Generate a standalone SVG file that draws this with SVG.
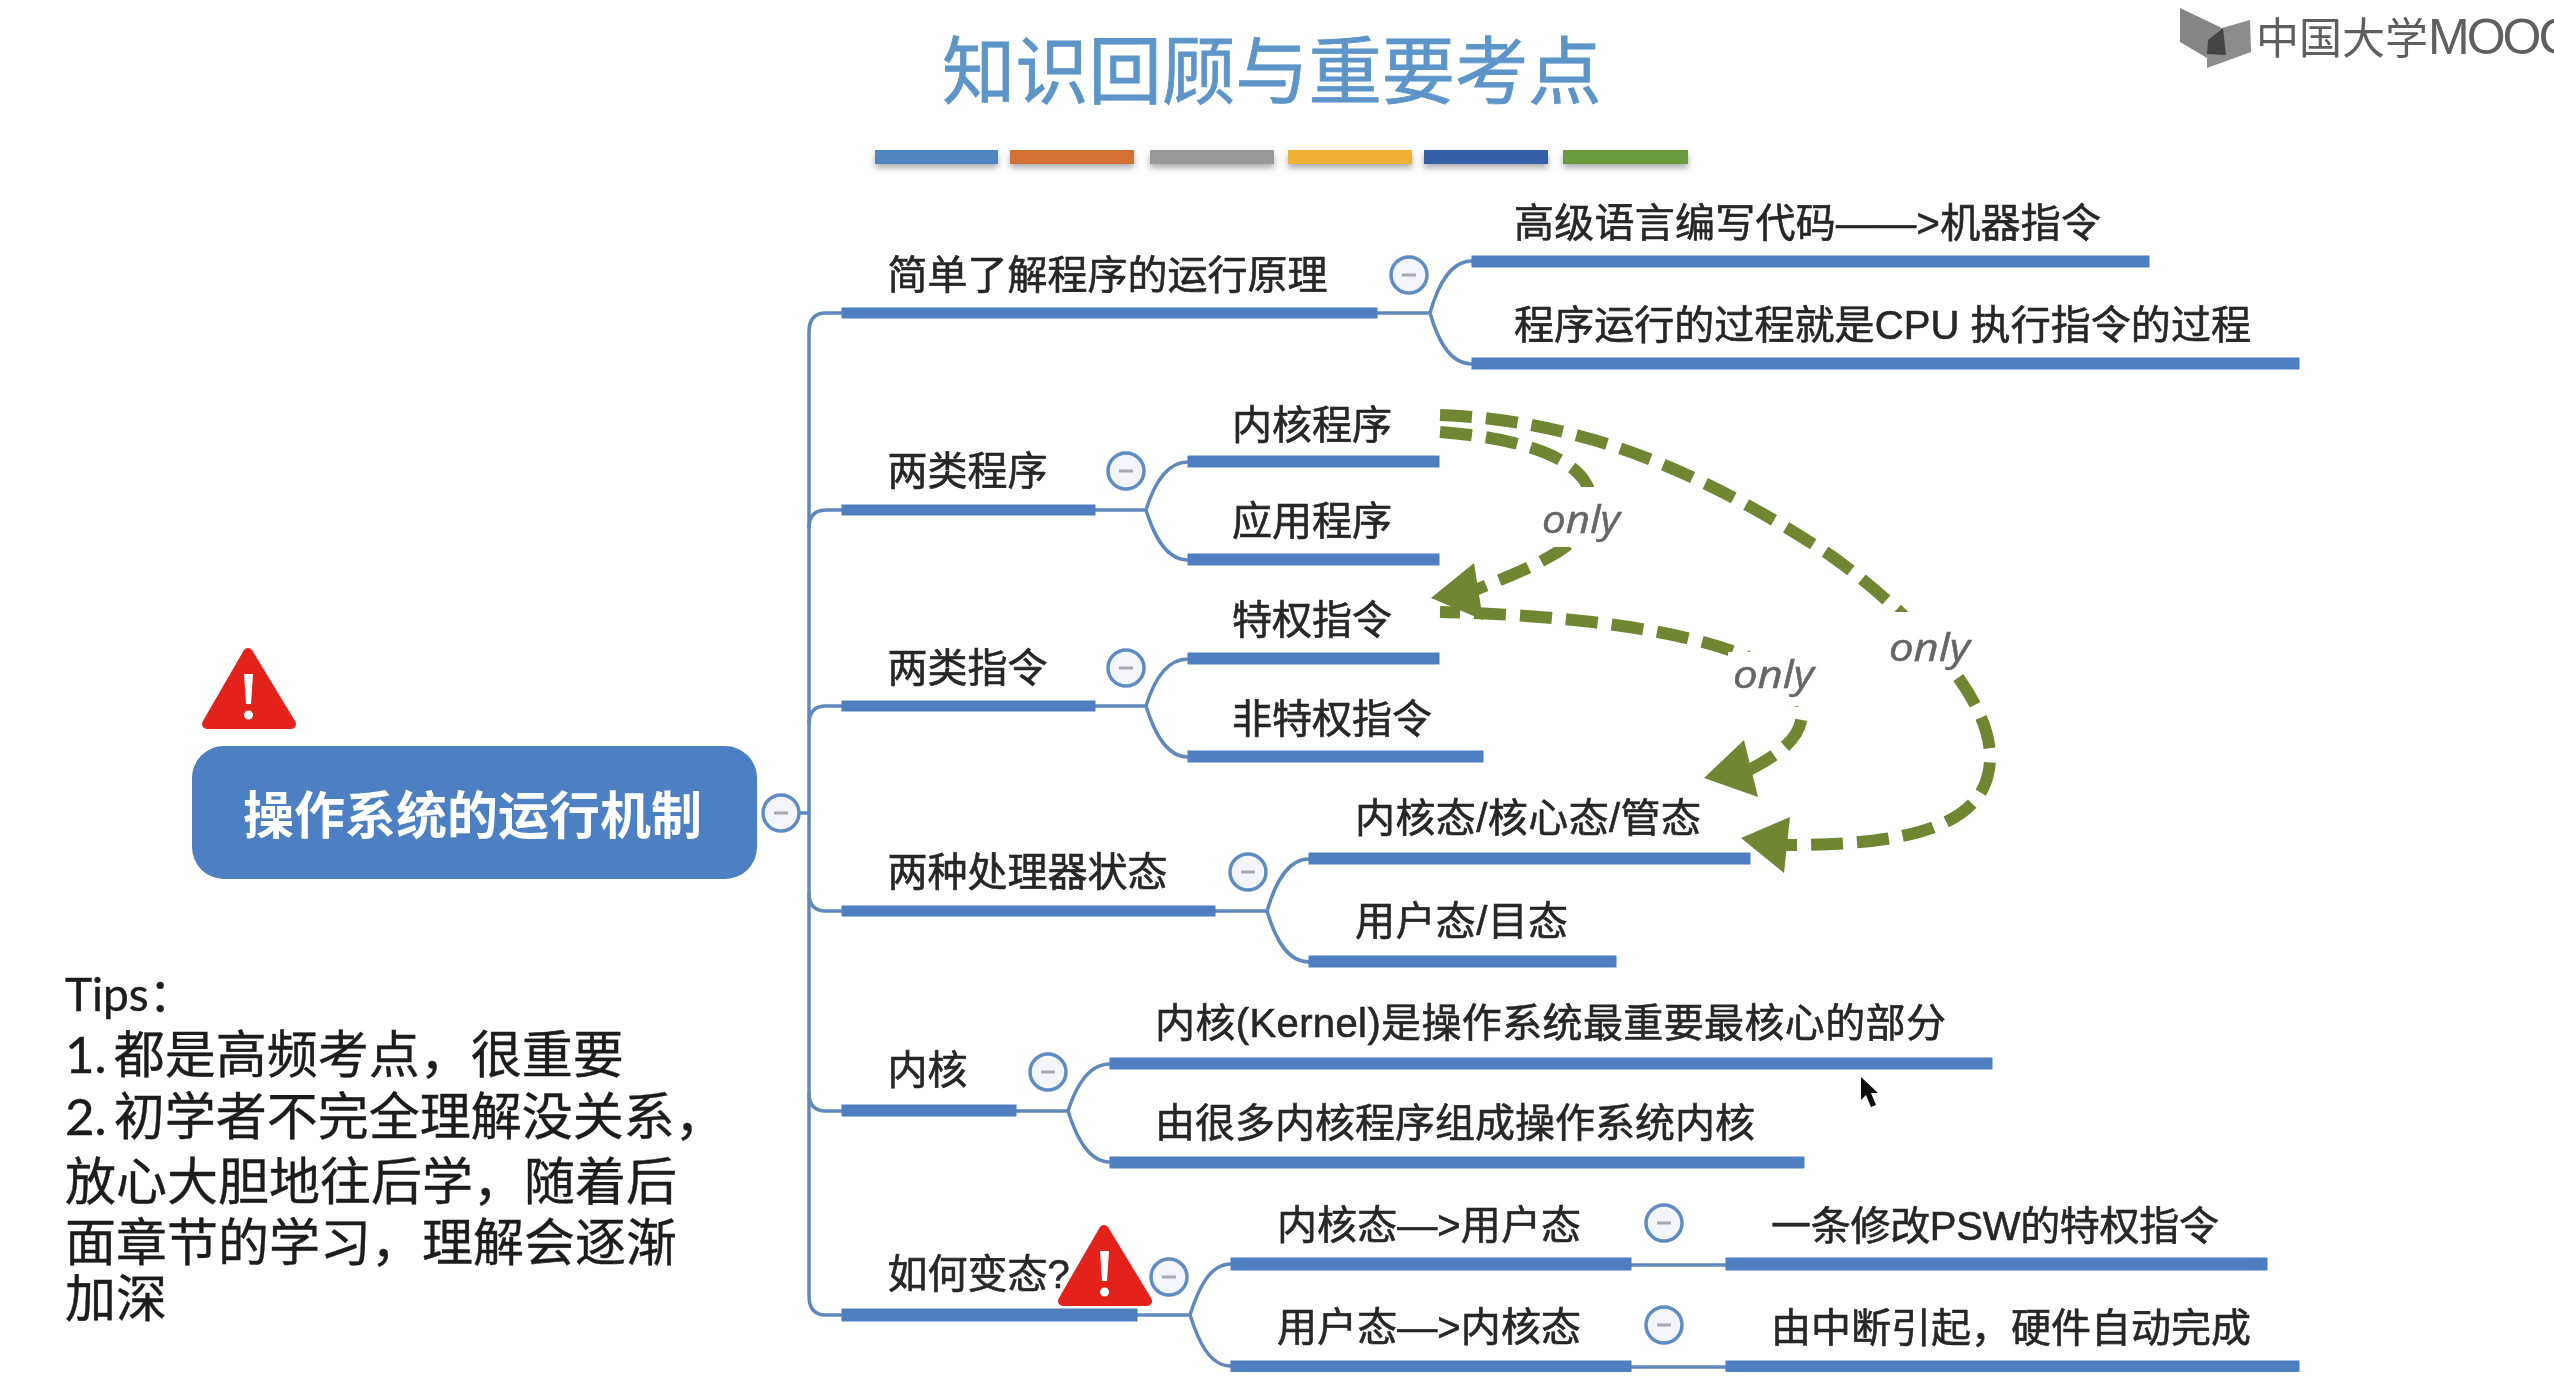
<svg xmlns="http://www.w3.org/2000/svg" width="2554" height="1396" viewBox="0 0 2554 1396">
<defs>
<style>
text{font-family:"Liberation Sans","Noto Sans CJK SC",sans-serif}
.l{font-size:40px;fill:#262626;stroke:#262626;stroke-width:.6px}
.tip{font-family:Lato,"Noto Sans CJK SC",sans-serif;font-size:51px;fill:#1c1c1c;stroke:#1c1c1c;stroke-width:.4px}
.only{font-family:"Open Sans","Liberation Sans",sans-serif;font-style:italic;font-size:38px;fill:#666;stroke:#666;stroke-width:.5px}
.bar{fill:#4f7fc0;stroke:#4f7fc0;stroke-width:1}
.line{fill:none;stroke:#5f88bf;stroke-width:3.5}
.dash{fill:none;stroke:#708632;stroke-width:12;stroke-dasharray:32 14}
.head{fill:#708632}
.cb{fill:#f4f5fb;stroke:#5f8cc4;stroke-width:3.5}
.cm{stroke:#a8a8b0;stroke-width:3}
.band{filter:url(#sh)}
</style>
<filter id="sh" x="-10%" y="-50%" width="120%" height="220%"><feDropShadow dx="0" dy="4" stdDeviation="3" flood-color="#777" flood-opacity=".6"/></filter>
<filter id="soft" x="0" y="0" width="100%" height="100%"><feGaussianBlur stdDeviation="0.7"/></filter>
<g id="warn">
<path d="M47 7 L90 78 H6 Z" fill="#e4201f" stroke="#e4201f" stroke-width="10" stroke-linejoin="round"/>
<path d="M43 28 H52 L50 58 H45 Z" fill="#fff"/>
<circle cx="47.500" cy="69" r="4.500" fill="#fff"/>
</g>
<g id="collapse"><circle class="cb" r="18"/><line class="cm" x1="-7" x2="7" y1="0" y2="0"/></g>
</defs>
<rect width="2554" height="1396" fill="#fff"/>
<g filter="url(#soft)">
<g id="title">
<text x="942" y="98" font-size="73.300" style="font-family:'Noto Sans CJK SC',sans-serif;fill:#5d95c9;stroke:#5d95c9;stroke-width:.8px">知识回顾与重要考点</text>
<rect class="band" x="875" y="150" width="123" height="14" fill="#4f86c0"/>
<rect class="band" x="1010" y="150" width="124" height="14" fill="#d56f35"/>
<rect class="band" x="1150" y="150" width="124" height="14" fill="#999999"/>
<rect class="band" x="1288" y="150" width="124" height="14" fill="#f0af35"/>
<rect class="band" x="1424" y="150" width="124" height="14" fill="#3560a8"/>
<rect class="band" x="1563" y="150" width="125" height="14" fill="#6a9a3e"/>
</g>
<g id="logo">
<polygon points="2180,8 2222,28 2208,42 2207,58 2180,42" fill="#858585"/>
<polygon points="2222,28 2250,20 2251,52 2207,68 2207,42" fill="#8c8c8c"/>
<polygon points="2223,28 2208,40 2207,54 2226,55" fill="#444"/>
<text x="2256" y="54" font-size="43" style="fill:#5e5e5e">中国大学<tspan font-size="50" letter-spacing="-3">MOOC</tspan></text>
</g>
<g id="connectors">
<path class="line" d="M781 813 H809"/>
<path class="line" d="M842 313 H826 Q809 313 809 332 V1296 Q809 1315 826 1315 H842"/>
<path class="line" d="M842 510 H826 Q809 510 809 528 M842 706 H826 Q809 706 809 724 M842 911 H826 Q809 911 809 893 M842 1111 H826 Q809 1111 809 1093"/>
<path class="line" d="M1377 313 H1430 M1472 261 C1450 261 1438 285 1430 313 C1438 341 1450 364 1472 364"/>
<path class="line" d="M1095 510 H1146 M1188 462 C1166 462 1154 484 1146 510 C1154 536 1166 560 1188 560"/>
<path class="line" d="M1095 706 H1146 M1188 659 C1166 659 1154 680 1146 706 C1154 732 1166 757 1188 757"/>
<path class="line" d="M1215 911 H1267 M1309 859 C1287 859 1275 884 1267 911 C1275 938 1287 962 1309 962"/>
<path class="line" d="M1016 1111 H1068 M1110 1064 C1088 1064 1076 1086 1068 1111 C1076 1136 1088 1162 1110 1162"/>
<path class="line" d="M1137 1315 H1190 M1231 1264 C1209 1264 1198 1290 1190 1315 C1198 1340 1209 1366 1231 1366"/>
<path class="line" d="M1631 1265 H1726 M1631 1367 H1726"/>
<path class="dash" d="M1440 432 C1520 438 1592 458 1592 505 C1592 545 1530 568 1470 592"/>
<path class="dash" d="M1440 415 C1580 420 1700 470 1830 555 C1900 605 1990 690 1990 757 C1990 830 1900 846 1775 845"/>
<path class="dash" d="M1440 612 C1620 616 1802 645 1802 712 C1802 735 1785 752 1745 772" stroke-dashoffset="12"/>
<polygon class="head" points="1431,598 1474,563 1483,620"/>
<polygon class="head" points="1704,778 1744,740 1758,797"/>
<polygon class="head" points="1741,838 1790,817 1784,873"/>
<rect x="1543" y="487" width="78" height="60" fill="#fff"/>
<rect x="1728" y="652" width="88" height="54" fill="#fff"/>
<rect x="1886" y="612" width="88" height="62" fill="#fff"/>
</g>
<g id="edge-labels">
<text class="only" x="1542" y="533" textLength="78" lengthAdjust="spacingAndGlyphs">only</text>
<text class="only" x="1733" y="688" textLength="81" lengthAdjust="spacingAndGlyphs">only</text>
<text class="only" x="1889" y="661" textLength="81" lengthAdjust="spacingAndGlyphs">only</text>
</g>
<g id="root">
<rect x="192" y="746" width="565" height="133" rx="32" fill="#4d80c2"/>
<text x="243" y="834" font-size="51" font-weight="700" fill="#fff">操作系统的运行机制</text>
<use href="#warn" x="201" y="646"/>
<use href="#collapse" x="781" y="813"/>
</g>
<g id="n1"><rect class="bar" x="842" y="308" width="535" height="10"/><text class="l" x="887.500" y="289">简单了解程序的运行原理</text><use href="#collapse" x="1409" y="275"/></g>
<g id="n11"><rect class="bar" x="1472" y="256" width="677" height="11"/><text class="l" x="1514" y="237" textLength="587">高级语言编写代码——&gt;机器指令</text></g>
<g id="n12"><rect class="bar" x="1472" y="358" width="827" height="11"/><text class="l" x="1514" y="339" textLength="737">程序运行的过程就是CPU 执行指令的过程</text></g>
<g id="n2"><rect class="bar" x="842" y="505" width="253" height="10"/><text class="l" x="887.500" y="485">两类程序</text><use href="#collapse" x="1126" y="471"/></g>
<g id="n21"><rect class="bar" x="1188" y="456" width="251" height="11"/><text class="l" x="1232" y="439">内核程序</text></g>
<g id="n22"><rect class="bar" x="1188" y="554" width="251" height="11"/><text class="l" x="1232" y="535">应用程序</text></g>
<g id="n3"><rect class="bar" x="842" y="701" width="253" height="10"/><text class="l" x="887.500" y="682">两类指令</text><use href="#collapse" x="1126" y="668"/></g>
<g id="n31"><rect class="bar" x="1188" y="653" width="251" height="11"/><text class="l" x="1232" y="634">特权指令</text></g>
<g id="n32"><rect class="bar" x="1188" y="751" width="295" height="11"/><text class="l" x="1232" y="733">非特权指令</text></g>
<g id="n4"><rect class="bar" x="842" y="906" width="373" height="10"/><text class="l" x="887.500" y="886">两种处理器状态</text><use href="#collapse" x="1248" y="872"/></g>
<g id="n41"><rect class="bar" x="1309" y="853" width="441" height="11"/><text class="l" x="1355" y="832" textLength="346">内核态/核心态/管态</text></g>
<g id="n42"><rect class="bar" x="1309" y="956" width="307" height="11"/><text class="l" x="1355" y="935" textLength="213">用户态/目态</text></g>
<g id="n5"><rect class="bar" x="842" y="1105" width="174" height="11"/><text class="l" x="887.500" y="1084">内核</text><use href="#collapse" x="1048" y="1072"/></g>
<g id="n51"><rect class="bar" x="1110" y="1058" width="882" height="11"/><text class="l" x="1155" y="1037" textLength="791">内核(Kernel)是操作系统最重要最核心的部分</text></g>
<g id="n52"><rect class="bar" x="1110" y="1157" width="694" height="11"/><text class="l" x="1155" y="1137">由很多内核程序组成操作系统内核</text></g>
<g id="n6"><rect class="bar" x="842" y="1309" width="295" height="12"/><text class="l" x="887.500" y="1288">如何变态?</text><use href="#warn" x="1057" y="1223"/><use href="#collapse" x="1169" y="1277"/></g>
<g id="n61"><rect class="bar" x="1231" y="1258" width="400" height="12"/><text class="l" x="1277" y="1239" textLength="304">内核态—&gt;用户态</text><use href="#collapse" x="1664" y="1223"/></g>
<g id="n62"><rect class="bar" x="1231" y="1361" width="400" height="11"/><text class="l" x="1277" y="1341" textLength="304">用户态—&gt;内核态</text><use href="#collapse" x="1664" y="1325"/></g>
<g id="n611"><rect class="bar" x="1726" y="1258" width="541" height="12"/><text class="l" x="1771" y="1240" textLength="448">一条修改PSW的特权指令</text></g>
<g id="n621"><rect class="bar" x="1726" y="1361" width="573" height="11"/><text class="l" x="1771" y="1342">由中断引起，硬件自动完成</text></g>
<g id="tips">
<text class="tip" x="65" y="1011" style="font-size:46px">Tips：</text>
<text class="tip" x="65" y="1073" word-spacing="-6">1. 都是高频考点，很重要</text>
<text class="tip" x="65" y="1135" word-spacing="-6">2. 初学者不完全理解没关系，</text>
<text class="tip" x="65" y="1200">放心大胆地往后学，随着后</text>
<text class="tip" x="65" y="1261">面章节的学习，理解会逐渐</text>
<text class="tip" x="65" y="1317">加深</text>
</g>
<g id="cursor"><polygon points="1861,1077 1861,1100 1866,1095 1871,1107 1876,1105 1871,1093 1878,1093" fill="#111"/></g>
</g>
</svg>
